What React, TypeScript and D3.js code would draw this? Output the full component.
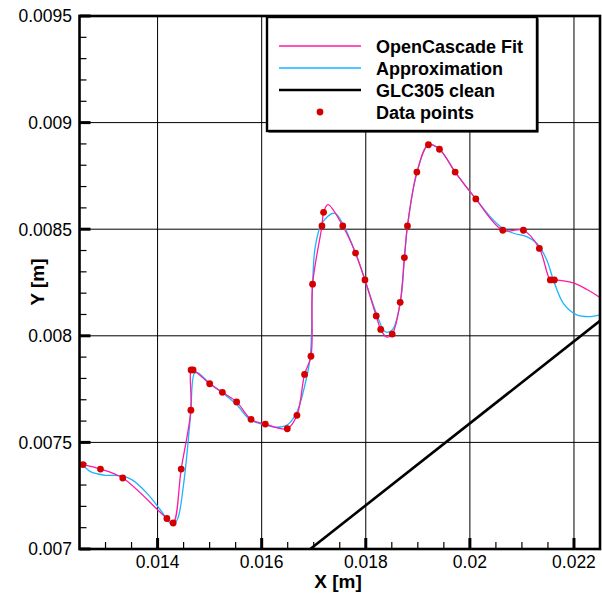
import React from "react";
import * as d3 from "d3";

const xDomain: [number, number] = [0.0125, 0.0225];
const yDomain: [number, number] = [0.007, 0.0095];
const xMajorTicks = [0.014, 0.016, 0.018, 0.02, 0.022];
const xTickLabels = ["0.014", "0.016", "0.018", "0.02", "0.022"];
const yMajorTicks = [0.007, 0.0075, 0.008, 0.0085, 0.009, 0.0095];
const yTickLabels = ["0.007", "0.0075", "0.008", "0.0085", "0.009", "0.0095"];
const xGrid = [0.014, 0.016, 0.018, 0.02, 0.022];
const yGrid = [0.0075, 0.008, 0.0085, 0.009];

const dataX = [
  0.012567, 0.012903, 0.013331, 0.014179, 0.0143, 0.014454, 0.01464, 0.014644, 0.014682, 0.015001,
  0.015245, 0.015519, 0.015796, 0.01607, 0.016492, 0.016678, 0.016824, 0.016947, 0.016978, 0.017158,
  0.017189, 0.017558, 0.017803, 0.017984, 0.018201, 0.018287, 0.018508, 0.018661, 0.018742, 0.018801,
  0.018982, 0.019204, 0.019416, 0.019717, 0.020114, 0.020632, 0.021028, 0.021335, 0.021546, 0.021623,
];
const dataY = [
  0.007396, 0.007375, 0.007333, 0.007143, 0.007122, 0.007375, 0.007651, 0.00784, 0.00784, 0.007775,
  0.007735, 0.00769, 0.007608, 0.007586, 0.007564, 0.007627, 0.007819, 0.007904, 0.008242, 0.008515,
  0.008579, 0.008515, 0.008388, 0.008262, 0.008093, 0.00803, 0.008008, 0.008157, 0.008367, 0.008515,
  0.008768, 0.008896, 0.008875, 0.008768, 0.008642, 0.008495, 0.008495, 0.00841, 0.008262, 0.008262,
];

// OpenCascade Fit (pink)
const fitX = [
  0.012567, 0.012903, 0.013331, 0.014179, 0.0143, 0.014454, 0.01464, 0.014644, 0.014682, 0.015001,
  0.015245, 0.015519, 0.015796, 0.01607, 0.016492, 0.016678, 0.016824, 0.016947, 0.016978, 0.017158,
  0.017189, 0.017274, 0.017558, 0.017803, 0.017984, 0.018201, 0.018287, 0.018402, 0.018508, 0.018661,
  0.018742, 0.018801, 0.018982, 0.019204, 0.019416, 0.019717, 0.020114, 0.020632, 0.021028, 0.021335,
  0.021546, 0.021623, 0.021982, 0.02225, 0.0225, 0.02273,
];
const fitY = [
  0.007396, 0.007375, 0.007333, 0.007143, 0.007122, 0.007375, 0.007651, 0.00784, 0.00784, 0.007775,
  0.007735, 0.00769, 0.007608, 0.007586, 0.007564, 0.007627, 0.007819, 0.007904, 0.008242, 0.008515,
  0.008579, 0.008615, 0.008515, 0.008388, 0.008262, 0.008093, 0.00803, 0.007994, 0.008008, 0.008157,
  0.008367, 0.008515, 0.008768, 0.008896, 0.008875, 0.008768, 0.008642, 0.008495, 0.008495, 0.00841,
  0.008262, 0.008262, 0.008248, 0.008217, 0.00818, 0.00814,
];

// Approximation (cyan)
const approxX = [
  0.012563, 0.012711, 0.012966, 0.013331, 0.013512, 0.013799, 0.014055, 0.014279, 0.014375, 0.014502,
  0.014631, 0.014707, 0.014765, 0.015001, 0.015245, 0.015527, 0.015782, 0.01607, 0.016275, 0.016492,
  0.016678, 0.016838, 0.016934, 0.016978, 0.01703, 0.017158, 0.017394, 0.017554, 0.017803, 0.017984,
  0.018201, 0.018373, 0.018508, 0.018661, 0.018744, 0.018801, 0.018982, 0.019204, 0.019416, 0.019717,
  0.020114, 0.020389, 0.020632, 0.020836, 0.021093, 0.021285, 0.021477, 0.021604, 0.021796, 0.022053,
  0.022308, 0.0225,
];
const approxY = [
  0.007395, 0.007363, 0.007347, 0.007342, 0.007324, 0.007261, 0.007183, 0.007116, 0.007136, 0.007308,
  0.007621, 0.007824, 0.007827, 0.007777, 0.007733, 0.007675, 0.007605, 0.007582, 0.007571, 0.007582,
  0.007644, 0.007777, 0.007902, 0.008242, 0.008418, 0.008528, 0.008575, 0.008528, 0.008388, 0.008262,
  0.008107, 0.008019, 0.008027, 0.008152, 0.008366, 0.008515, 0.008762, 0.008896, 0.008875, 0.008768,
  0.008642, 0.008559, 0.008504, 0.008481, 0.008465, 0.008434, 0.008356, 0.008262, 0.008152, 0.008098,
  0.00809, 0.008098,
];

// GLC305 clean
const cleanX = [0.016934, 0.0225];
const cleanY = [0.007, 0.00807];

const legendItems = [
  { label: "OpenCascade Fit", kind: "line", color: "#ff1aa3", width: 1.3 },
  { label: "Approximation", kind: "line", color: "#1ab4ff", width: 1.3 },
  { label: "GLC305 clean", kind: "line", color: "#000000", width: 2.6 },
  { label: "Data points", kind: "dot", color: "#d40000", width: 0 },
];

const W = 602;
const H = 595;
const M = { left: 79.5, right: 600, top: 16, bottom: 549 };
const FONT = "'Liberation Sans', Arial, Helvetica, sans-serif";

export default function App() {
  const x = d3.scaleLinear().domain(xDomain).range([M.left, M.right]);
  const y = d3.scaleLinear().domain(yDomain).range([M.bottom, M.top]);

  const mk = (xs: number[], ys: number[]) => xs.map((v, i) => [v, ys[i]] as [number, number]);
  const curve = d3
    .line<[number, number]>()
    .x((d) => x(d[0]))
    .y((d) => y(d[1]))
    .curve(d3.curveCatmullRom.alpha(0.5));
  const straight = d3
    .line<[number, number]>()
    .x((d) => x(d[0]))
    .y((d) => y(d[1]));

  const xMinor = d3.range(0, 21).map((i) => 0.0125 + i * 0.0005).filter(
    (v) => !xMajorTicks.some((m) => Math.abs(m - v) < 1e-9) && v > 0.0125 + 1e-9 && v < 0.0225 - 1e-9
  );
  const yMinor = d3.range(0, 26).map((i) => 0.007 + i * 0.0001).filter(
    (v) => !yMajorTicks.some((m) => Math.abs(m - v) < 1e-9) && v > 0.007 + 1e-9 && v < 0.0095 - 1e-9
  );

  const lg = { x: 267, y: 17, w: 270, h: 114 };

  return (
    <svg width={W} height={H} style={{ position: "absolute", left: 0, top: 0, background: "#fff" }}>
      <defs>
        <clipPath id="plotclip">
          <rect x={M.left} y={M.top} width={M.right - M.left} height={M.bottom - M.top} />
        </clipPath>
      </defs>
      <rect x={0} y={0} width={W} height={H} fill="#fff" />
      {xGrid.map((v) => (
        <line key={"gx" + v} x1={x(v)} x2={x(v)} y1={M.top} y2={M.bottom} stroke="#000" strokeWidth={1} />
      ))}
      {yGrid.map((v) => (
        <line key={"gy" + v} x1={M.left} x2={M.right} y1={y(v)} y2={y(v)} stroke="#000" strokeWidth={1} />
      ))}
      {xMinor.map((v) => (
        <line key={"mx" + v} x1={x(v)} x2={x(v)} y1={M.bottom} y2={M.bottom - 7} stroke="#000" strokeWidth={1.2} />
      ))}
      {yMinor.map((v) => (
        <line key={"my" + v} x1={M.left} x2={M.left + 7} y1={y(v)} y2={y(v)} stroke="#000" strokeWidth={1.2} />
      ))}
      {xMajorTicks.map((v) => (
        <line key={"Mx" + v} x1={x(v)} x2={x(v)} y1={M.bottom} y2={M.bottom - 11} stroke="#000" strokeWidth={3} />
      ))}
      {yMajorTicks.map((v) => (
        <line key={"My" + v} x1={M.left} x2={M.left + 11} y1={y(v)} y2={y(v)} stroke="#000" strokeWidth={3} />
      ))}
      <g clipPath="url(#plotclip)">
        <path d={straight(mk(cleanX, cleanY)) || ""} fill="none" stroke="#000" strokeWidth={2.6} />
        <path d={curve(mk(approxX, approxY)) || ""} fill="none" stroke="#1ab4ff" strokeWidth={1.3} />
        <path d={curve(mk(fitX, fitY)) || ""} fill="none" stroke="#ff1aa3" strokeWidth={1.3} />
        {dataX.map((v, i) => (
          <circle key={"p" + i} cx={x(v)} cy={y(dataY[i])} r={3.4} fill="#d40000" />
        ))}
      </g>
      <rect x={M.left} y={M.top} width={M.right - M.left} height={M.bottom - M.top} fill="none" stroke="#000" strokeWidth={2.6} />
      {xMajorTicks.map((v, i) => (
        <text key={"tx" + v} x={x(v)} y={568} textAnchor="middle" fontFamily={FONT} fontSize={17.5} fill="#000">
          {xTickLabels[i]}
        </text>
      ))}
      {yMajorTicks.map((v, i) => (
        <text key={"ty" + v} x={72} y={y(v) + 6.3} textAnchor="end" fontFamily={FONT} fontSize={17.5} fill="#000">
          {yTickLabels[i]}
        </text>
      ))}
      <text x={338} y={588} textAnchor="middle" fontFamily={FONT} fontSize={19} fontWeight="bold" fill="#000">
        X [m]
      </text>
      <text
        transform={`translate(44,282) rotate(-90)`}
        textAnchor="middle"
        fontFamily={FONT}
        fontSize={19}
        fontWeight="bold"
        fill="#000"
      >
        Y [m]
      </text>
      <rect x={lg.x + 1.5} y={lg.y + 1.5} width={lg.w} height={lg.h} fill="#000" />
      <rect x={lg.x} y={lg.y} width={lg.w} height={lg.h} fill="#fff" stroke="#000" strokeWidth={2.4} />
      {legendItems.map((it, i) => {
        const cy = 46 + i * 22;
        return (
          <g key={it.label}>
            {it.kind === "line" ? (
              <line x1={279} x2={361} y1={cy} y2={cy} stroke={it.color} strokeWidth={it.width} />
            ) : (
              <circle cx={320} cy={cy} r={3.4} fill={it.color} />
            )}
            <text x={376} y={cy + 6.5} fontFamily={FONT} fontSize={18} fontWeight="bold" fill="#000">
              {it.label}
            </text>
          </g>
        );
      })}
    </svg>
  );
}
